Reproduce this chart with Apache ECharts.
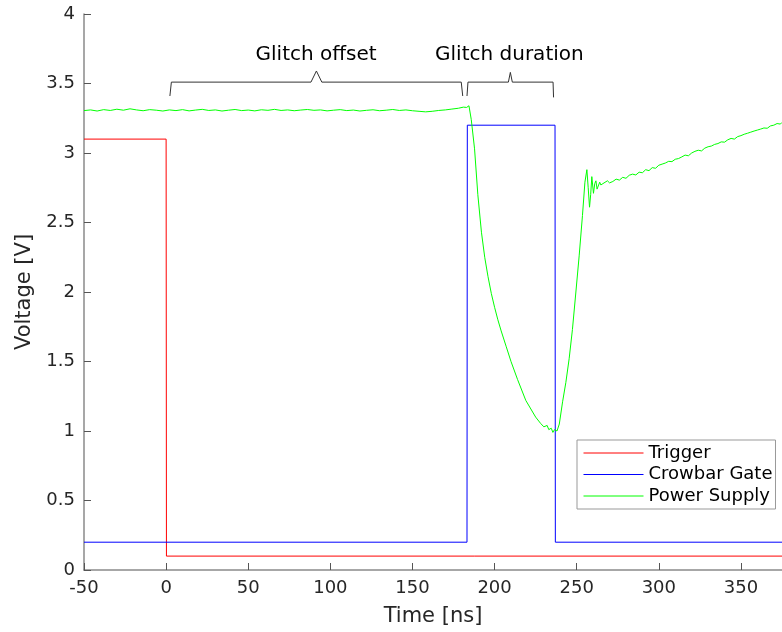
<!DOCTYPE html>
<html>
<head>
<meta charset="utf-8">
<script src="https://cdn.jsdelivr.net/npm/echarts@6/dist/echarts.min.js"></script>
<style>
html,body{margin:0;padding:0;background:#fff;}
#chart{width:782px;height:632px;}
</style>
</head>
<body>
<div id="chart"></div>
<script>
// ---- Data ----
var seriesNames = ['Trigger', 'Crowbar Gate', 'Power Supply'];

var triggerT = [-50, 0, 0.2, 375];
var triggerV = [3.1, 3.1, 0.1, 0.1];

var gateT = [-50, 183.2, 183.4, 236.8, 237.0, 375];
var gateV = [0.2, 0.2, 3.2, 3.2, 0.2, 0.2];

var supplyT = [
  -50, -46, -42, -38, -34, -30, -26, -22, -18, -14, -10, -6, -2, 2, 6, 10, 14, 18, 22, 26,
  30, 34, 38, 42, 46, 50, 54, 58, 62, 66, 70, 74, 78, 82, 86, 90, 94, 98, 102, 106,
  110, 114, 118, 122, 126, 130, 134, 138, 142, 146, 150, 154, 158, 162, 166, 170, 174, 178, 181, 183,
  184.4, 185.8, 187.8, 189.8, 192, 194, 196, 198, 200, 202, 204, 207, 210, 214, 219, 225, 228, 230, 232, 233, 234.5, 235.5,
  236.5, 238, 239.4, 241.4, 243.4, 245.4, 247.4, 249.5, 251.5, 253.5, 255, 256.2, 257, 257.8, 258.5, 259.2, 260.2, 261, 261.7, 262.4,
  263.1, 264, 264.7, 266, 268.7, 270, 272, 274, 276, 278, 280, 282, 284, 286, 288, 290, 292, 294, 296, 298, 300, 302, 304, 306, 308,
  310, 312, 314, 316, 318, 320, 322, 324, 326, 328, 330, 332, 334, 336, 338, 340, 342, 344, 346, 348, 350,
  352, 354, 356, 358, 360, 362, 364, 366, 368, 370, 372, 374, 375
];
var supplyV = [
  3.305, 3.310, 3.302, 3.312, 3.306, 3.315, 3.308, 3.318, 3.310, 3.304, 3.312, 3.308, 3.302, 3.310, 3.305, 3.312, 3.303, 3.309, 3.314, 3.306,
  3.310, 3.302, 3.308, 3.313, 3.305, 3.309, 3.303, 3.311, 3.307, 3.314, 3.306, 3.310, 3.304, 3.309, 3.313, 3.307, 3.310, 3.303, 3.308, 3.312,
  3.305, 3.309, 3.302, 3.307, 3.311, 3.304, 3.308, 3.313, 3.306, 3.310, 3.304, 3.300, 3.296, 3.300, 3.306, 3.310, 3.316, 3.322, 3.330, 3.328,
  3.340, 3.240, 3.030, 2.700, 2.430, 2.250, 2.110, 1.990, 1.890, 1.800, 1.720, 1.610, 1.500, 1.370, 1.220, 1.100, 1.055, 1.030, 1.040, 1.010, 1.020, 0.990,
  1.010, 1.000, 1.050, 1.210, 1.350, 1.520, 1.730, 2.000, 2.260, 2.550, 2.790, 2.880, 2.750, 2.610, 2.700, 2.830, 2.710, 2.780, 2.800, 2.740,
  2.750, 2.790, 2.770, 2.780, 2.800, 2.785, 2.795, 2.812, 2.805, 2.825, 2.818, 2.840, 2.848, 2.842, 2.862, 2.858, 2.880, 2.873, 2.895, 2.890, 2.912, 2.920, 2.928, 2.940, 2.938,
  2.955, 2.960, 2.972, 2.985, 2.980, 3.000, 3.012, 3.020, 3.015, 3.035, 3.045, 3.050, 3.062, 3.068, 3.080, 3.078, 3.095, 3.105, 3.100, 3.118, 3.125,
  3.135, 3.142, 3.150, 3.158, 3.165, 3.172, 3.180, 3.178, 3.195, 3.200, 3.212, 3.208, 3.220
];

var braceOffsetT = [2.3, 3.2, 88.2, 91.5, 94.8, 179.7, 180.6];
var braceOffsetV = [3.41, 3.51, 3.51, 3.59, 3.51, 3.51, 3.41];
var braceDurationT = [183.2, 183.8, 208.4, 209.6, 210.8, 235.6, 235.9];
var braceDurationV = [3.41, 3.51, 3.51, 3.58, 3.51, 3.51, 3.40];

var annotations = [
  {text: 'Glitch offset', t: 91.3, v: 3.706},
  {text: 'Glitch duration', t: 209.0, v: 3.706}
];

var xTicks = {min: -50, max: 375, interval: 50};
var yTicks = {min: 0, max: 4, interval: 0.5};

function zip(a, b) { return a.map(function (x, i) { return [x, b[i]]; }); }

// ---- Chart ----
var FONT = 'DejaVu Sans';
var chart = echarts.init(document.getElementById('chart'), null, {renderer: 'canvas'});

function lineSeries(name, data, color, z) {
  return {
    name: name, type: 'line', data: data, symbol: 'none', showSymbol: false,
    lineStyle: {color: color, width: 1}, itemStyle: {color: color},
    animation: false, z: z, silent: true
  };
}

var option = {
  animation: false,
  backgroundColor: '#ffffff',
  textStyle: {fontFamily: FONT},
  grid: {left: 84, top: 14, right: 0, bottom: 57, containLabel: false},
  xAxis: {
    type: 'value', min: xTicks.min, max: xTicks.max, interval: xTicks.interval,
    name: 'Time [ns]', nameLocation: 'middle', nameGap: 36,
    nameTextStyle: {fontFamily: FONT, fontSize: 21, color: '#262626'},
    axisLine: {show: true, onZero: false, lineStyle: {color: '#8a8a8a', width: 1.5}},
    axisTick: {show: true, inside: true, length: 7, lineStyle: {color: '#555', width: 1}},
    axisLabel: {fontFamily: FONT, fontSize: 18, color: '#262626', margin: 9, showMaxLabel: false},
    splitLine: {show: false}
  },
  yAxis: {
    type: 'value', min: yTicks.min, max: yTicks.max, interval: yTicks.interval,
    name: 'Voltage [V]', nameLocation: 'middle', nameGap: 46, nameRotate: 90,
    nameTextStyle: {fontFamily: FONT, fontSize: 21, color: '#262626'},
    axisLine: {show: true, onZero: false, lineStyle: {color: '#8a8a8a', width: 1.5}},
    axisTick: {show: true, inside: true, length: 7, lineStyle: {color: '#555', width: 1}},
    axisLabel: {fontFamily: FONT, fontSize: 18, color: '#262626', margin: 9},
    splitLine: {show: false}
  },
  legend: {
    data: seriesNames,
    orient: 'vertical', left: 577, top: 440,
    itemWidth: 60, itemHeight: 14, itemGap: 3.5,
    padding: [4, 3, 4, 6],
    backgroundColor: '#ffffff', borderColor: '#999999', borderWidth: 1,
    textStyle: {fontFamily: FONT, fontSize: 18, color: '#000', lineHeight: 18},
    lineStyle: {width: 1},
    itemStyle: {opacity: 0},
    selectedMode: false
  },
  series: [
    lineSeries(seriesNames[0], zip(triggerT, triggerV), '#ff0000', 2),
    lineSeries(seriesNames[1], zip(gateT, gateV), '#0000ff', 3),
    lineSeries(seriesNames[2], zip(supplyT, supplyV), '#00ff00', 4),
    lineSeries('braceOffset', zip(braceOffsetT, braceOffsetV), '#333333', 5),
    lineSeries('braceDuration', zip(braceDurationT, braceDurationV), '#333333', 5)
  ]
};
chart.setOption(option);

var graphics = annotations.map(function (a) {
  var p = chart.convertToPixel({gridIndex: 0}, [a.t, a.v]);
  return {
    type: 'text', x: p[0], y: p[1], z: 10,
    style: {text: a.text, fontFamily: FONT, fontSize: 20, fill: '#000',
            textAlign: 'center', textVerticalAlign: 'middle'}
  };
});
chart.setOption({graphic: graphics});
</script>
</body>
</html>
